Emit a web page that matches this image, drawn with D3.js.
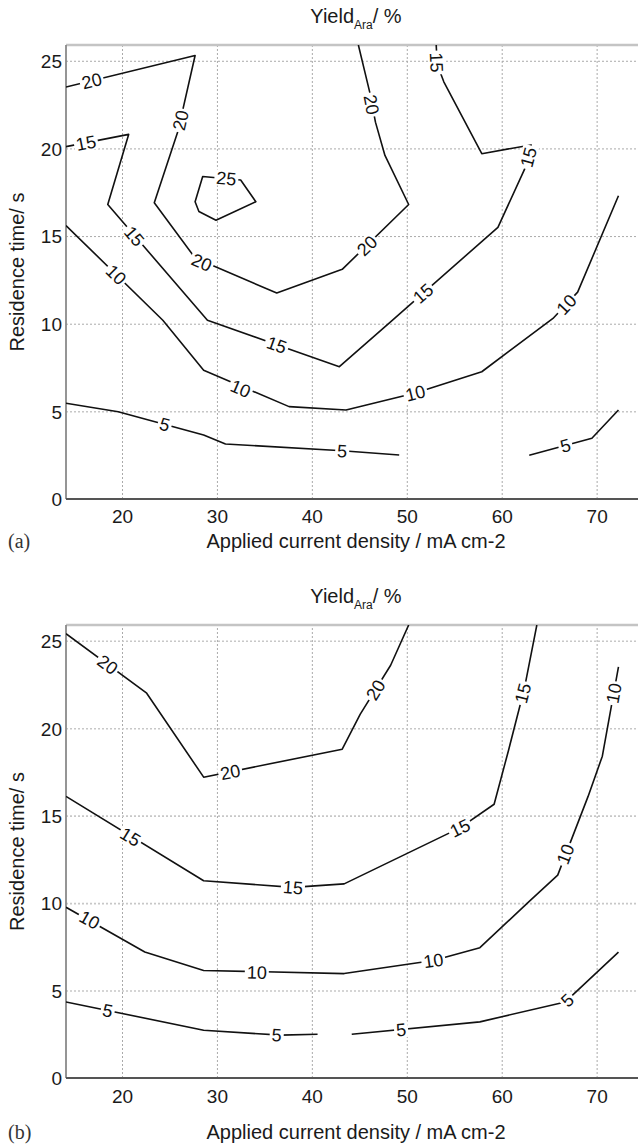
<!DOCTYPE html>
<html>
<head>
    <meta charset="utf-8">
    <title>Yield Ara contours</title>
    <script src="https://d3js.org/d3.v7.min.js"></script>
    <style>
        html, body { margin: 0; padding: 0; background: #fff; }
        svg { display: block; }
        .tick-text { font-family: "Liberation Sans", Arial, sans-serif; font-size: 19px; fill: #1a1a1a; }
        .axis-title { font-family: "Liberation Sans", Arial, sans-serif; font-size: 20px; fill: #1a1a1a; }
        .panel-tag { font-family: "Liberation Serif", "Times New Roman", serif; font-size: 20px; fill: #333; }
        .clabel { font-family: "Liberation Sans", Arial, sans-serif; font-size: 18px; fill: #111; }
    </style>
</head>
<body>
<div id="chart"></div>
<script>
    // axis ticks and ranges
    const xTicks = [20, 30, 40, 50, 60, 70];
    const yTicks = [0, 5, 10, 15, 20, 25];
    const xDomain = [14.1, 75.2];
    const yDomain = [0, 25.9];

    // panel (a) contour lines, [current density, residence time]
    const a25 = [[28.5, 18.4], [32.5, 18.2], [34.1, 16.96], [29.9, 15.9], [28.1, 16.4], [27.7, 16.96]];
    const a20 = [[14.1, 23.5], [27.7, 25.3], [25.9, 21.0], [23.4, 16.9], [27.7, 13.75], [36.3, 11.75],
        [43.2, 13.1], [50.2, 16.8], [47.7, 19.6], [46.7, 21.5], [46.1, 23.2], [44.9, 25.9]];
    const a15 = [[14.1, 20.1], [20.7, 20.8], [18.5, 16.8], [29.0, 10.2], [36.3, 8.8], [42.9, 7.55],
        [48.5, 10.2], [59.6, 15.5], [62.4, 18.8], [63.1, 20.2], [57.9, 19.7], [53.9, 23.8], [53.2, 24.8], [53.1, 25.9]];
    const a10 = [[14.1, 15.6], [24.3, 10.2], [28.6, 7.35], [37.6, 5.27], [43.6, 5.08], [50.9, 6.05],
        [57.9, 7.26], [65.4, 10.3], [68.0, 11.8], [72.3, 17.3]];
    const a5left = [[14.1, 5.46], [19.6, 4.98], [28.6, 3.65], [30.9, 3.14], [43.2, 2.75], [49.2, 2.51]];
    const a5right = [[62.9, 2.5], [69.5, 3.47], [72.3, 5.08]];
    const labelsA = [
        [25, 31.0, 18.3], [20, 16.8, 23.86], [20, 26.15, 21.6], [20, 28.4, 13.5], [20, 45.8, 14.45], [20, 46.3, 22.5],
        [15, 16.2, 20.32], [15, 21.3, 15.0], [15, 36.3, 8.8], [15, 51.7, 11.73], [15, 62.8, 19.5], [15, 53.15, 24.9],
        [10, 19.4, 12.8], [10, 32.5, 6.3], [10, 50.9, 6.05], [10, 66.8, 11.1],
        [5, 24.5, 4.26], [5, 43.2, 2.75], [5, 66.7, 3.06]
    ];

    // panel (b) contour lines
    const b20 = [[14.1, 25.4], [22.6, 22.0], [28.6, 17.2], [43.2, 18.8], [45.1, 20.8], [48.3, 23.6], [50.2, 25.9]];
    const b15 = [[14.1, 16.1], [28.6, 11.28], [38.0, 10.9], [43.4, 11.1], [55.6, 14.3], [59.2, 15.65],
        [60.7, 18.7], [62.4, 22.3], [63.7, 25.9]];
    const b10 = [[14.1, 9.76], [22.4, 7.2], [28.6, 6.15], [43.4, 5.97], [52.8, 6.72], [57.7, 7.45],
        [62.9, 10.1], [65.9, 11.6], [69.1, 16.1], [70.6, 18.4], [72.3, 23.5]];
    const b5left = [[14.1, 4.35], [28.6, 2.73], [36.7, 2.45], [40.6, 2.5]];
    const b5right = [[44.2, 2.5], [57.7, 3.21], [66.7, 4.35], [72.3, 7.2]];
    const labelsB = [
        [20, 18.5, 23.64], [20, 31.4, 17.5], [20, 46.7, 22.2],
        [15, 20.9, 13.8], [15, 38.0, 10.9], [15, 55.6, 14.3], [15, 62.2, 22.0],
        [10, 16.6, 9.05], [10, 34.2, 6.05], [10, 52.8, 6.72], [10, 66.7, 12.8], [10, 71.8, 22.0],
        [5, 18.5, 3.86], [5, 36.3, 2.47], [5, 49.4, 2.77], [5, 66.9, 4.45]
    ];

    const W = 638, H = 1146;
    const left = 66, right = 646;

    const svg = d3.select("#chart").append("svg")
        .attr("width", W)
        .attr("height", H);

    const panels = [
        {
            id: "a", top: 45, bottom: 499, titleY: 23, tickY: 523, xlabY: 548,
            lines: [
                { level: 25, pts: a25, closed: true },
                { level: 20, pts: a20 }, { level: 15, pts: a15 }, { level: 10, pts: a10 },
                { level: 5, pts: a5left }, { level: 5, pts: a5right }
            ],
            labels: labelsA
        },
        {
            id: "b", top: 625, bottom: 1078, titleY: 603, tickY: 1103, xlabY: 1139,
            lines: [
                { level: 20, pts: b20 }, { level: 15, pts: b15 }, { level: 10, pts: b10 },
                { level: 5, pts: b5left }, { level: 5, pts: b5right }
            ],
            labels: labelsB
        }
    ];

    panels.forEach((p) => {
        const x = d3.scaleLinear().domain(xDomain).range([left, right]);
        const y = d3.scaleLinear().domain(yDomain).range([p.bottom, p.top]);
        const g = svg.append("g");

        // dotted grid
        g.append("g")
            .attr("transform", `translate(0,${p.bottom})`)
            .call(d3.axisBottom(x).tickValues(xTicks).tickSize(-(p.bottom - p.top)).tickFormat(""))
            .call((s) => s.select(".domain").remove())
            .selectAll("line")
            .attr("stroke", "#aaa")
            .attr("stroke-width", 1)
            .attr("stroke-dasharray", "2,2");

        g.append("g")
            .attr("transform", `translate(${left},0)`)
            .call(d3.axisLeft(y).tickValues(yTicks.filter((v) => v > 0)).tickSize(-(right - left)).tickFormat(""))
            .call((s) => s.select(".domain").remove())
            .selectAll("line")
            .attr("stroke", p.id === "b" ? "#c8c8c8" : "#aaa")
            .attr("stroke-width", p.id === "b" ? 1.6 : 1)
            .attr("stroke-dasharray", "2,2");

        // frame
        g.append("line")
            .attr("x1", left).attr("x2", right)
            .attr("y1", p.top).attr("y2", p.top)
            .attr("stroke", "#c4c4c4").attr("stroke-width", 2.5);
        g.append("line")
            .attr("x1", left).attr("x2", left)
            .attr("y1", p.top).attr("y2", p.bottom)
            .attr("stroke", "#8a8a8a").attr("stroke-width", 1.8);
        g.append("line")
            .attr("x1", left).attr("x2", right)
            .attr("y1", p.bottom).attr("y2", p.bottom)
            .attr("stroke", "#555").attr("stroke-width", 2);

        // tick labels
        g.append("g")
            .attr("transform", `translate(${left - 4},0)`)
            .call(d3.axisLeft(y).tickValues(yTicks).tickSize(0).tickPadding(0))
            .call((s) => s.select(".domain").remove())
            .selectAll("text")
            .attr("class", "tick-text")
            .attr("font-size", null)
            .attr("font-family", null)
            .attr("fill", null)
            .attr("dy", "0.36em");

        g.append("g")
            .attr("transform", `translate(0,${p.tickY})`)
            .call(d3.axisBottom(x).tickValues(xTicks).tickSize(0).tickPadding(0))
            .call((s) => s.select(".domain").remove())
            .selectAll("text")
            .attr("class", "tick-text")
            .attr("font-size", null)
            .attr("font-family", null)
            .attr("fill", null)
            .attr("dy", 0)
            .attr("y", 0);

        // contour lines
        const clipId = "clip-" + p.id;
        svg.append("clipPath").attr("id", clipId)
            .append("rect")
            .attr("x", left).attr("y", p.top)
            .attr("width", right - left).attr("height", p.bottom - p.top);

        const lineGen = d3.line().x((d) => x(d[0])).y((d) => y(d[1]));
        const lineGenClosed = d3.line().x((d) => x(d[0])).y((d) => y(d[1])).curve(d3.curveLinearClosed);

        const cg = g.append("g").attr("clip-path", `url(#${clipId})`);
        p.lines.forEach((ln) => {
            cg.append("path")
                .datum(ln.pts)
                .attr("fill", "none")
                .attr("stroke", "#111")
                .attr("stroke-width", 1.6)
                .attr("stroke-linejoin", "round")
                .attr("d", ln.closed ? lineGenClosed : lineGen);
        });

        // contour labels, rotated along nearest segment
        p.labels.forEach(([level, lx, ly]) => {
            const px = x(lx), py = y(ly);
            let best = null, bestD = Infinity;
            p.lines.filter((ln) => ln.level === level).forEach((ln) => {
                const pts = ln.closed ? ln.pts.concat([ln.pts[0]]) : ln.pts;
                for (let i = 0; i < pts.length - 1; i++) {
                    const x1 = x(pts[i][0]), y1 = y(pts[i][1]);
                    const x2 = x(pts[i + 1][0]), y2 = y(pts[i + 1][1]);
                    const dx = x2 - x1, dy = y2 - y1;
                    let t = ((px - x1) * dx + (py - y1) * dy) / (dx * dx + dy * dy);
                    t = Math.max(0, Math.min(1, t));
                    const qx = x1 + t * dx, qy = y1 + t * dy;
                    const dd = (qx - px) ** 2 + (qy - py) ** 2;
                    if (dd < bestD) { bestD = dd; best = [dx, dy]; }
                }
            });
            let ang = Math.atan2(best[1], best[0]) * 180 / Math.PI;
            if (ang > 90) ang -= 180;
            if (ang <= -90) ang += 180;

            const lg = cg.append("g")
                .attr("transform", `translate(${px},${py}) rotate(${ang})`);
            const txt = String(level);
            const tw = txt.length * 10 + 4;
            lg.append("rect")
                .attr("x", -tw / 2).attr("y", -8)
                .attr("width", tw).attr("height", 16)
                .attr("fill", "#fff");
            lg.append("text")
                .attr("class", "clabel")
                .attr("text-anchor", "middle")
                .attr("dy", "0.36em")
                .text(txt);
        });

        // title with subscript
        const title = g.append("text")
            .attr("class", "axis-title")
            .attr("x", (left + right) / 2)
            .attr("y", p.titleY)
            .attr("text-anchor", "middle");
        title.append("tspan").text("Yield");
        title.append("tspan").attr("font-size", "12px").attr("dy", 6).text("Ara");
        title.append("tspan").attr("dy", -6).text("/ %");

        // axis titles
        g.append("text")
            .attr("class", "axis-title")
            .attr("x", (left + right) / 2)
            .attr("y", p.xlabY)
            .attr("text-anchor", "middle")
            .text("Applied current density / mA cm-2");

        g.append("text")
            .attr("class", "axis-title")
            .attr("transform", `translate(24,${(p.top + p.bottom) / 2}) rotate(-90)`)
            .attr("text-anchor", "middle")
            .text("Residence time/ s");

        g.append("text")
            .attr("class", "panel-tag")
            .attr("x", 8)
            .attr("y", p.xlabY)
            .text(`(${p.id})`);
    });
</script>
</body>
</html>
